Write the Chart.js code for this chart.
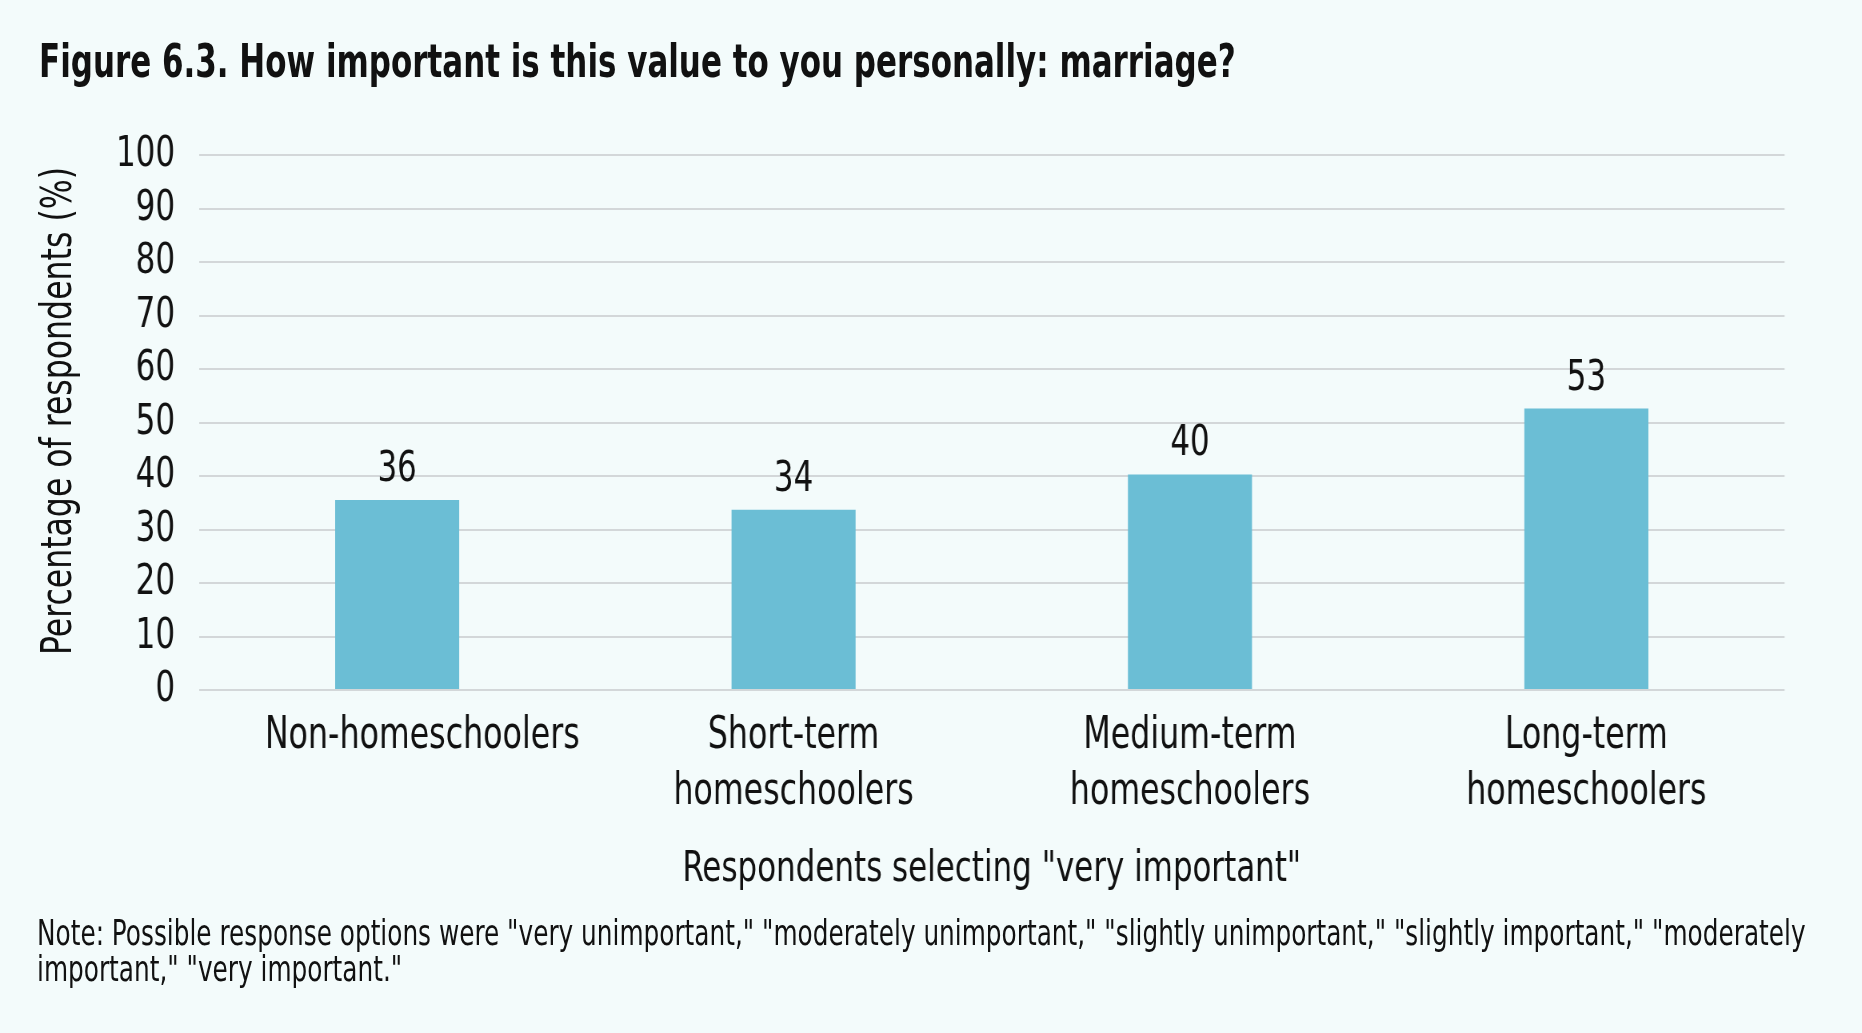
<!DOCTYPE html>
<html>
<head>
<meta charset="utf-8">
<script src="https://cdn.jsdelivr.net/npm/chart.js@4"></script>
<style>
  html, body { margin: 0; padding: 0; background: #f3fbfb; }
  body { width: 1862px; height: 1033px; position: relative; overflow: hidden;
         font-family: 'Liberation Sans Narrow', 'DejaVu Sans Condensed', sans-serif; color: #111; }
  /* no condensed face is installed narrow enough, so text is squeezed */
  #title { position: absolute; left: 39px; top: 38px; font-size: 46px; line-height: 46px; font-weight: bold;
           white-space: nowrap; transform: scaleX(0.748); transform-origin: 0 0; }
  #ytitle { position: absolute; left: 57px; top: 411px; font-size: 42px; line-height: 42px; white-space: nowrap;
            transform: translate(-50%, -50%) rotate(-90deg) scaleX(0.835); }
  #note { position: absolute; left: 37px; top: 915px; font-size: 36px; line-height: 36px; white-space: nowrap;
          transform: scaleX(0.765); transform-origin: 0 0; }
  #wrap { position: absolute; left: 0; top: 0; width: 2328px; height: 1033px;
          transform: scaleX(0.7998); transform-origin: 0 0; }
</style>
</head>
<body>
<div id="wrap"><canvas id="chart"></canvas></div>
<div id="title">Figure 6.3. How important is this value to you personally: marriage?</div>
<div id="ytitle">Percentage of respondents (%)</div>
<div id="note">Note: Possible response options were "very unimportant," "moderately unimportant," "slightly unimportant," "slightly important," "moderately<br>important," "very important."</div>
<script>
  /* data ------------------------------------------------- */
  const categories = [
    '     Non-homeschoolers',        // sits off-centre in the original
    ['Short-term', 'homeschoolers'],
    ['Medium-term', 'homeschoolers'],
    ['Long-term', 'homeschoolers']
  ];
  const values = [35.5, 33.7, 40.3, 52.6];
  const valueLabels = ['36', '34', '40', '53'];
  const yTicks = [0, 10, 20, 30, 40, 50, 60, 70, 80, 90, 100];

  const FONT = "'Liberation Sans Narrow', 'DejaVu Sans Condensed', sans-serif";

  /* labels above bars ------------------------------------ */
  const barLabels = {
    id: 'barLabels',
    afterDatasetsDraw(chart) {
      const { ctx } = chart;
      const meta = chart.getDatasetMeta(0);
      ctx.save();
      ctx.font = `43px ${FONT}`;
      ctx.fillStyle = '#111';
      ctx.textAlign = 'center';
      ctx.textBaseline = 'alphabetic';
      meta.data.forEach((bar, i) => ctx.fillText(valueLabels[i], bar.x, bar.y - 19));
      ctx.restore();
    }
  };

  Chart.defaults.font.family = FONT;
  Chart.defaults.color = '#111';

  new Chart(document.getElementById('chart'), {
    type: 'bar',
    data: {
      labels: categories,
      datasets: [{
        data: values,
        backgroundColor: '#6bbed5',
        borderWidth: 0,
        categoryPercentage: 1,
        barPercentage: 0.313
      }]
    },
    options: {
      responsive: true,
      maintainAspectRatio: false,
      animation: false,
      layout: { padding: { left: 100, right: 96.75, top: 155, bottom: 137 } },
      plugins: { legend: { display: false }, tooltip: { enabled: false } },
      scales: {
        x: {
          grid: { display: false, drawTicks: false },
          border: { display: false },
          ticks: { font: { size: 44, lineHeight: 1.28 }, padding: 18, maxRotation: 0, autoSkip: false },
          title: { display: true, text: 'Respondents selecting "very important"', font: { size: 43 }, padding: 0 },
          afterFit(scale) { scale.height = 206; }
        },
        y: {
          min: 0, max: 100,
          afterBuildTicks(scale) { scale.ticks = yTicks.map(v => ({ value: v })); },
          grid: { color: '#d3d7d9', lineWidth: 2, drawTicks: false },
          border: { display: false },
          ticks: { font: { size: 43, lineHeight: 1 }, padding: 30, autoSkip: false },
          afterFit(scale) { scale.width = 148.75; }
        }
      }
    },
    plugins: [barLabels]
  });
</script>
</body>
</html>
